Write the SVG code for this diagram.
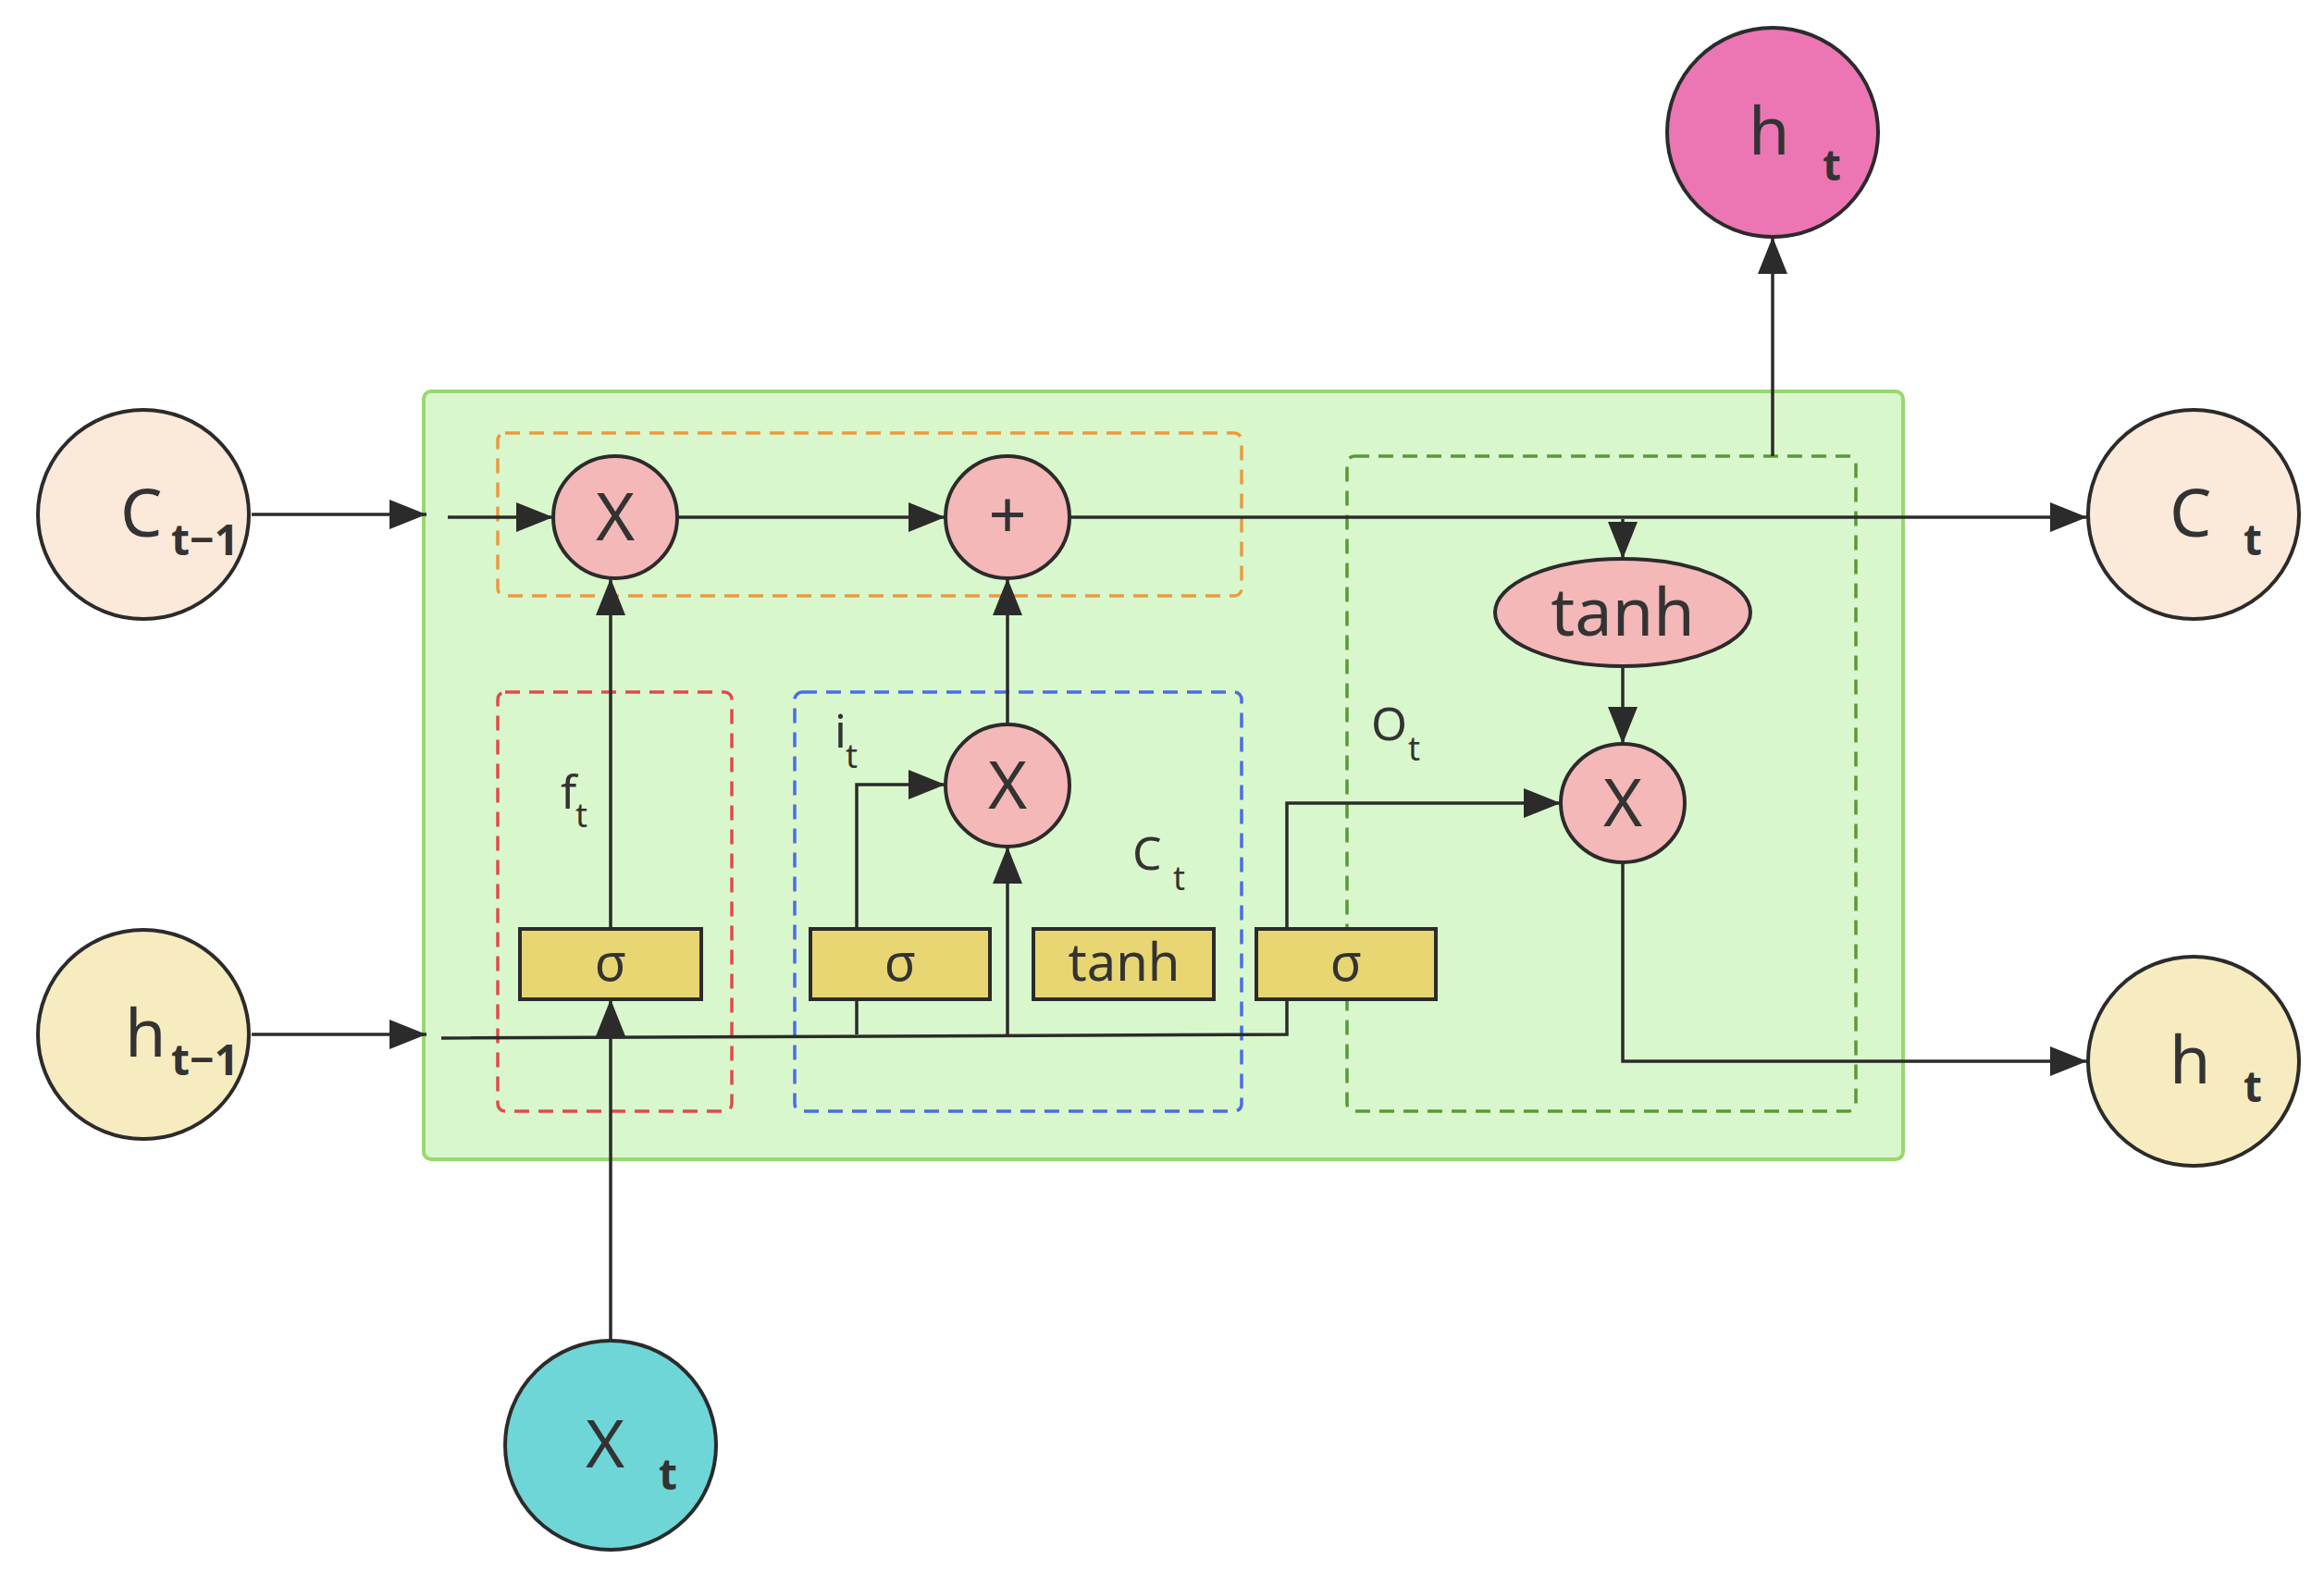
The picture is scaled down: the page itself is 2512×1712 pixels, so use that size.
<svg xmlns="http://www.w3.org/2000/svg" width="2512" height="1712" viewBox="0 0 2512 1712">
<style>
text{font-family:"Noto Sans","Open Sans",sans-serif;fill:#333}
.n{stroke:#2b2b2b;stroke-width:4}
.c{stroke:#2b2b2b;stroke-width:3.5;fill:none}
.box{fill:#e8d672;stroke:#2b2b2b;stroke-width:4}
.d{fill:none;stroke-width:3.5;stroke-dasharray:16 10}
.big{font-size:72px}
.sub{font-size:46px;font-weight:bold}
.lab{font-size:50px}
.ls{font-size:36px}
</style>
<defs>
<marker id="a" markerWidth="10" markerHeight="10" refX="9" refY="5" orient="auto" markerUnits="userSpaceOnUse" viewBox="0 0 10 10">
<path d="M0,0 L10,5 L0,10 z" fill="#2b2b2b"/>
</marker>
<marker id="b" viewBox="0 0 10 10" refX="10" refY="5" markerWidth="40" markerHeight="32" orient="auto" markerUnits="userSpaceOnUse" preserveAspectRatio="none">
<path d="M0,0 L10,5 L0,10 z" fill="#2b2b2b"/>
</marker>
</defs>
<g id="cell"><rect x="458" y="423" width="1599" height="830" rx="8" fill="#d9f7cc" stroke="#97d86f" stroke-width="4"/></g>
<g id="groups">
<rect class="d" x="538" y="468" width="804" height="176" rx="8" stroke="#ea9a40"/>
<rect class="d" x="538" y="748" width="253" height="453" rx="8" stroke="#e24a4a"/>
<rect class="d" x="859" y="748" width="483" height="453" rx="8" stroke="#4a6ce8"/>
<rect class="d" x="1456" y="493" width="550" height="708" rx="8" stroke="#5a9a34"/>
</g>
<g id="connectors">
<line class="c" x1="272" y1="556" x2="461" y2="556" marker-end="url(#b)"/>
<line class="c" x1="484" y1="559" x2="598" y2="559" marker-end="url(#b)"/>
<line class="c" x1="732" y1="559" x2="1022" y2="559" marker-end="url(#b)"/>
<line class="c" x1="1156" y1="559" x2="2256" y2="559" marker-end="url(#b)"/>
<line class="c" x1="272" y1="1118" x2="461" y2="1118" marker-end="url(#b)"/>
<polyline class="c" points="477,1122 1391,1118 1391,1080"/>
<line class="c" x1="660" y1="1448" x2="660" y2="1080" marker-end="url(#b)"/>
<line class="c" x1="660" y1="1004" x2="660" y2="625" marker-end="url(#b)"/>
<polyline class="c" points="926,1118 926,848 1022,848" marker-end="url(#b)"/>
<line class="c" x1="1089" y1="1118" x2="1089" y2="915" marker-end="url(#b)"/>
<line class="c" x1="1089" y1="783" x2="1089" y2="625" marker-end="url(#b)"/>
<polyline class="c" points="1391,1004 1391,868 1687,868" marker-end="url(#b)"/>
<line class="c" x1="1754" y1="561" x2="1754" y2="604" marker-end="url(#b)"/>
<line class="c" x1="1754" y1="720" x2="1754" y2="804" marker-end="url(#b)"/>
<polyline class="c" points="1754,932 1754,1147 2256,1147" marker-end="url(#b)"/>
<polyline class="c" points="1916,493 1916,380 1916,256" marker-end="url(#b)"/>
</g>
<g id="C_prev"><ellipse class="n" cx="155" cy="556" rx="114" ry="113" fill="#fbe9da"/><text x="130" y="580" class="big">C</text><text x="185" y="600" class="sub">t−1</text></g>
<g id="h_prev"><ellipse class="n" cx="155" cy="1118" rx="114" ry="113" fill="#f6ecc0"/><text x="135" y="1142" class="big">h</text><text x="185" y="1162" class="sub">t−1</text></g>
<g id="X_t"><ellipse class="n" cx="660" cy="1562" rx="114" ry="113" fill="#6fd6d8"/><text x="633" y="1586" class="big">X</text><text x="712" y="1610" class="sub">t</text></g>
<g id="h_top"><ellipse class="n" cx="1916" cy="143" rx="114" ry="113" fill="#ec76b4"/><text x="1890" y="167" class="big">h</text><text x="1970" y="195" class="sub">t</text></g>
<g id="C_t"><ellipse class="n" cx="2371" cy="556" rx="114" ry="113" fill="#fbe9da"/><text x="2345" y="580" class="big">C</text><text x="2425" y="600" class="sub">t</text></g>
<g id="h_t"><ellipse class="n" cx="2371" cy="1147" rx="114" ry="113" fill="#f6ecc0"/><text x="2345" y="1171" class="big">h</text><text x="2425" y="1191" class="sub">t</text></g>
<g id="mul1"><ellipse class="n" cx="665" cy="559" rx="67" ry="66" fill="#f4b8b8"/><text x="665" y="584" class="big" text-anchor="middle">X</text></g>
<g id="add"><ellipse class="n" cx="1089" cy="559" rx="67" ry="66" fill="#f4b8b8"/><text x="1089" y="582" class="big" text-anchor="middle" font-size="60">+</text></g>
<g id="mul2"><ellipse class="n" cx="1089" cy="849" rx="67" ry="66" fill="#f4b8b8"/><text x="1089" y="874" class="big" text-anchor="middle">X</text></g>
<g id="mul3"><ellipse class="n" cx="1754" cy="868" rx="67" ry="64" fill="#f4b8b8"/><text x="1754" y="893" class="big" text-anchor="middle">X</text></g>
<g id="tanh2"><ellipse class="n" cx="1754" cy="662" rx="138" ry="58" fill="#f4b8b8"/><text x="1754" y="687" class="big" text-anchor="middle">tanh</text></g>
<g id="sig1"><rect class="box" x="562" y="1004" width="196" height="76"/><text x="660" y="1060" text-anchor="middle" font-size="56">σ</text></g>
<g id="sig2"><rect class="box" x="876" y="1004" width="194" height="76"/><text x="973" y="1060" text-anchor="middle" font-size="56">σ</text></g>
<g id="tanh1"><rect class="box" x="1117" y="1004" width="195" height="76"/><text x="1215" y="1060" text-anchor="middle" font-size="56">tanh</text></g>
<g id="sig3"><rect class="box" x="1358" y="1004" width="194" height="76"/><text x="1455" y="1060" text-anchor="middle" font-size="56">σ</text></g>
<g id="labels">
<text x="606" y="874" class="lab">f</text><text x="622" y="894" class="ls">t</text>
<text x="902" y="808" class="lab">i</text><text x="914" y="830" class="ls">t</text>
<text x="1224" y="940" class="lab">C</text><text x="1268" y="962" class="ls">t</text>
<text x="1482" y="800" class="lab">O</text><text x="1522" y="822" class="ls">t</text>
</g>
</svg>
